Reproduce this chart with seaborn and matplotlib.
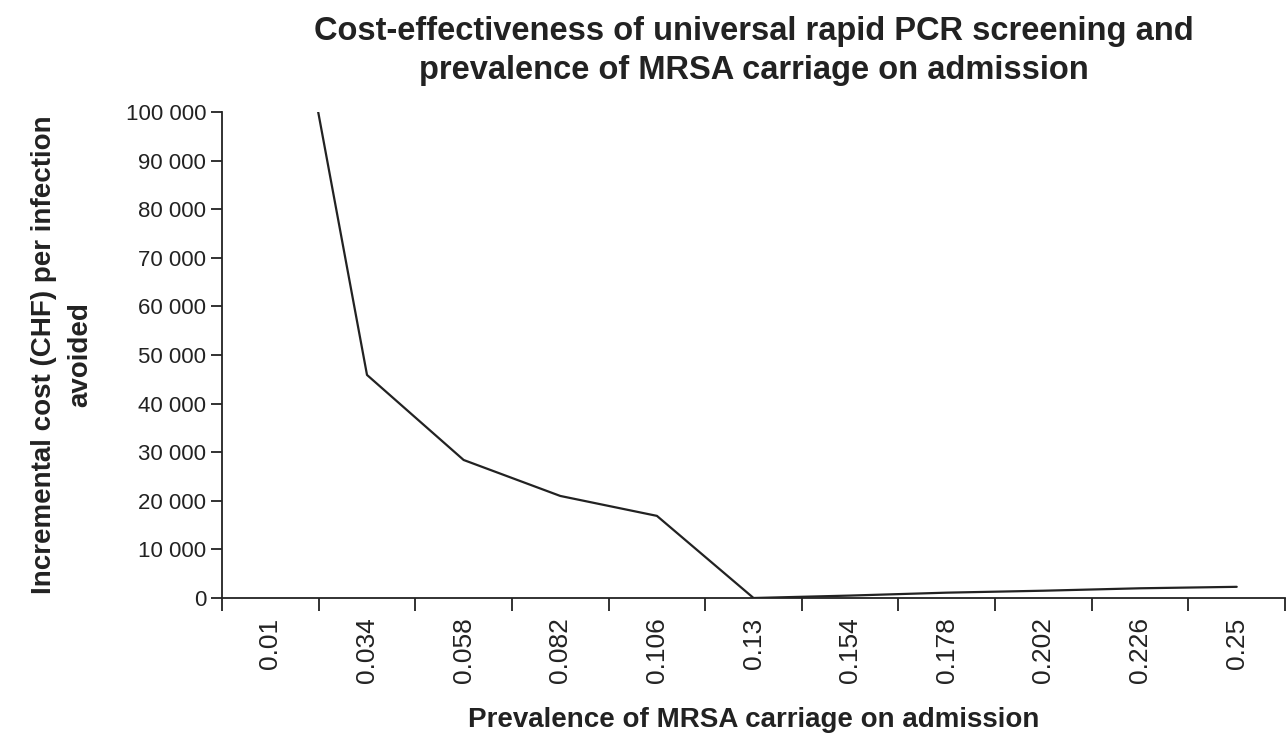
import matplotlib
matplotlib.use("Agg")
import matplotlib.pyplot as plt
import matplotlib.ticker as mticker
import pandas as pd
import seaborn as sns

# prevalence categories (x axis) and incremental cost per infection avoided
prevalence = ["0.01", "0.034", "0.058", "0.082", "0.106", "0.13",
              "0.154", "0.178", "0.202", "0.226", "0.25"]
cost_chf = [153000, 45900, 28400, 21000, 16900, 0,
            500, 1100, 1500, 2000, 2300]
y_ticks = [0, 10000, 20000, 30000, 40000, 50000, 60000, 70000, 80000, 90000, 100000]

df = pd.DataFrame({"prevalence": prevalence, "cost": cost_chf})

sns.set_theme(style="white")
plt.rcParams["font.family"] = ["Liberation Sans", "DejaVu Sans"]

fig = plt.figure(figsize=(12.88, 7.37), dpi=100)
ax = fig.add_axes([0.1724, 0.1886, 0.8253, 0.6594])

sns.lineplot(data=df, x="prevalence", y="cost", ax=ax, sort=False,
             color="#222222", linewidth=1.6)

ax.set_xlim(-0.5, len(prevalence) - 0.5)
ax.set_ylim(0, 100000)
ax.set_yticks(y_ticks)
ax.yaxis.set_major_formatter(
    mticker.FuncFormatter(lambda v, p: f"{int(v):,}".replace(",", " ")))

# Excel-style: labels at category centres, tick marks between categories
ax.set_xticks(range(len(prevalence)))
ax.set_xticklabels(prevalence, rotation=90)
ax.set_xticks([i - 0.5 for i in range(len(prevalence) + 1)], minor=True)
ax.tick_params(axis="x", which="major", length=0, pad=14, labelsize=19,
               colors="#222222")
ax.tick_params(axis="x", which="minor", length=9, width=1.3, color="#222222",
               direction="out", bottom=True)
ax.tick_params(axis="y", length=8, width=1.3, color="#222222", direction="out",
               left=True, labelsize=16, labelcolor="#222222")

for side in ["top", "right"]:
    ax.spines[side].set_visible(False)
for side in ["left", "bottom"]:
    ax.spines[side].set_color("#222222")
    ax.spines[side].set_linewidth(1.3)

ax.set_xlabel("Prevalence of MRSA carriage on admission",
              fontsize=20, fontweight="bold", color="#222222", labelpad=17)
ax.set_ylabel("Incremental cost (CHF) per infection\navoided",
              fontsize=20, fontweight="bold", color="#222222", labelpad=23,
              linespacing=1.55)
ax.set_title("Cost-effectiveness of universal rapid PCR screening and\n"
             "prevalence of MRSA carriage on admission",
             fontsize=23.5, fontweight="bold", color="#222222", pad=24,
             linespacing=1.3)

fig.savefig("out.png", dpi=100)
